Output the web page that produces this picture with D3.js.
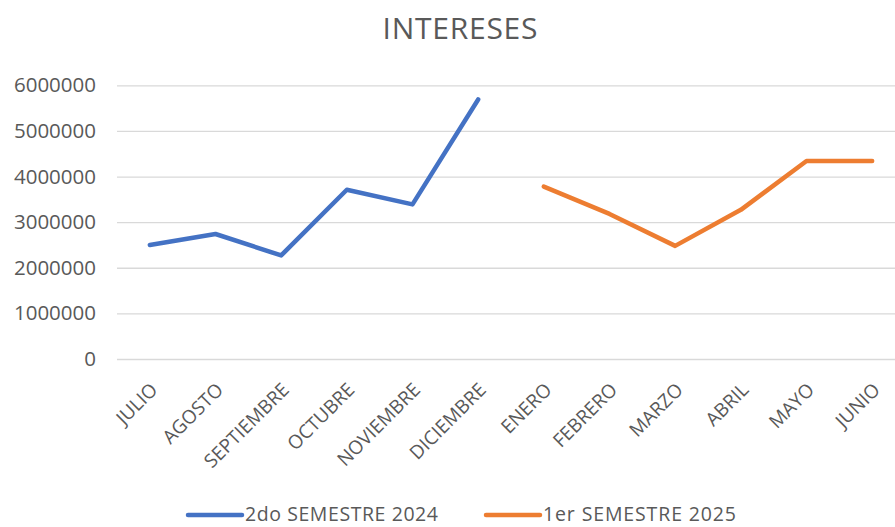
<!DOCTYPE html>
<html>
<head>
<meta charset="utf-8">
<script src="https://cdn.jsdelivr.net/npm/d3@7"></script>
<style>
  body { margin: 0; background: #fff; }
  svg { display: block; font-family: "Open Sans", sans-serif; }
</style>
</head>
<body>
<div id="chart"></div>
<script>
// datos del grafico
const months = ["JULIO", "AGOSTO", "SEPTIEMBRE", "OCTUBRE", "NOVIEMBRE", "DICIEMBRE",
                "ENERO", "FEBRERO", "MARZO", "ABRIL", "MAYO", "JUNIO"];
const sem2024 = [2500000, 2740000, 2270000, 3710000, 3390000, 5690000];
const sem2025 = [3780000, 3180000, 2480000, 3270000, 4340000, 4340000];
const seriesNames = ["2do SEMESTRE 2024", "1er SEMESTRE 2025"];
const yTicks = [0, 1000000, 2000000, 3000000, 4000000, 5000000, 6000000];

const W = 895, H = 527;
const colors = ["#4472C4", "#ED7D31"];
const textCol = "#595959";

const svg = d3.select("#chart").append("svg")
  .attr("width", W).attr("height", H);

svg.append("text")
  .attr("x", 460).attr("y", 39)
  .attr("text-anchor", "middle")
  .attr("fill", textCol)
  .style("font-size", "30px")
  .attr("textLength", 155)
  .text("INTERESES");

const x = d3.scaleBand().domain(months).range([117, 905]);
const y = d3.scaleLinear().domain([0, 6000000]).range([359, 85.3]);

// lineas de la grilla + etiquetas eje y
const yAxis = svg.append("g")
  .attr("transform", "translate(117,0)")
  .call(d3.axisLeft(y).tickValues(yTicks).tickSize(-(905 - 117)).tickPadding(21).tickFormat(d3.format("d")));
yAxis.select(".domain").remove();
yAxis.selectAll(".tick line").attr("stroke", "#d9d9d9").attr("stroke-width", 1.3);
yAxis.selectAll(".tick text").attr("fill", textCol).style("font-size", "20.5px").style("font-family", "Open Sans");

// eje x, etiquetas rotadas
const xAxis = svg.append("g")
  .attr("transform", "translate(0,359)")
  .call(d3.axisBottom(x).tickSize(0).tickPadding(0));
xAxis.select(".domain").remove();
xAxis.selectAll(".tick text")
  .attr("fill", textCol)
  .style("font-size", "19px")
  .style("font-family", "Open Sans")
  .attr("text-anchor", "end")
  .attr("y", 0).attr("dy", 0)
  .attr("transform", "translate(9,32) rotate(-45)");

const line = d3.line()
  .x(d => x(d.m) + x.bandwidth() / 2)
  .y(d => y(d.v));

const data2024 = sem2024.map((v, i) => ({ m: months[i], v: v }));
const data2025 = sem2025.map((v, i) => ({ m: months[i + 6], v: v }));

[data2024, data2025].forEach((d, i) => {
  svg.append("path")
    .datum(d)
    .attr("d", line)
    .attr("fill", "none")
    .attr("stroke", colors[i])
    .attr("stroke-width", 4.5)
    .attr("stroke-linecap", "round")
    .attr("stroke-linejoin", "round");
});

// leyenda
const legendX = [188, 486];
seriesNames.forEach((name, i) => {
  const g = svg.append("g").attr("transform", "translate(" + legendX[i] + ",515)");
  g.append("line")
    .attr("x1", 0).attr("x2", 54).attr("y1", 0).attr("y2", 0)
    .attr("stroke", colors[i]).attr("stroke-width", 4.5).attr("stroke-linecap", "round");
  g.append("text")
    .attr("x", 57).attr("y", 6)
    .attr("fill", textCol)
    .style("font-size", "19.5px")
    .attr("textLength", 193)
    .text(name);
});
</script>
</body>
</html>
